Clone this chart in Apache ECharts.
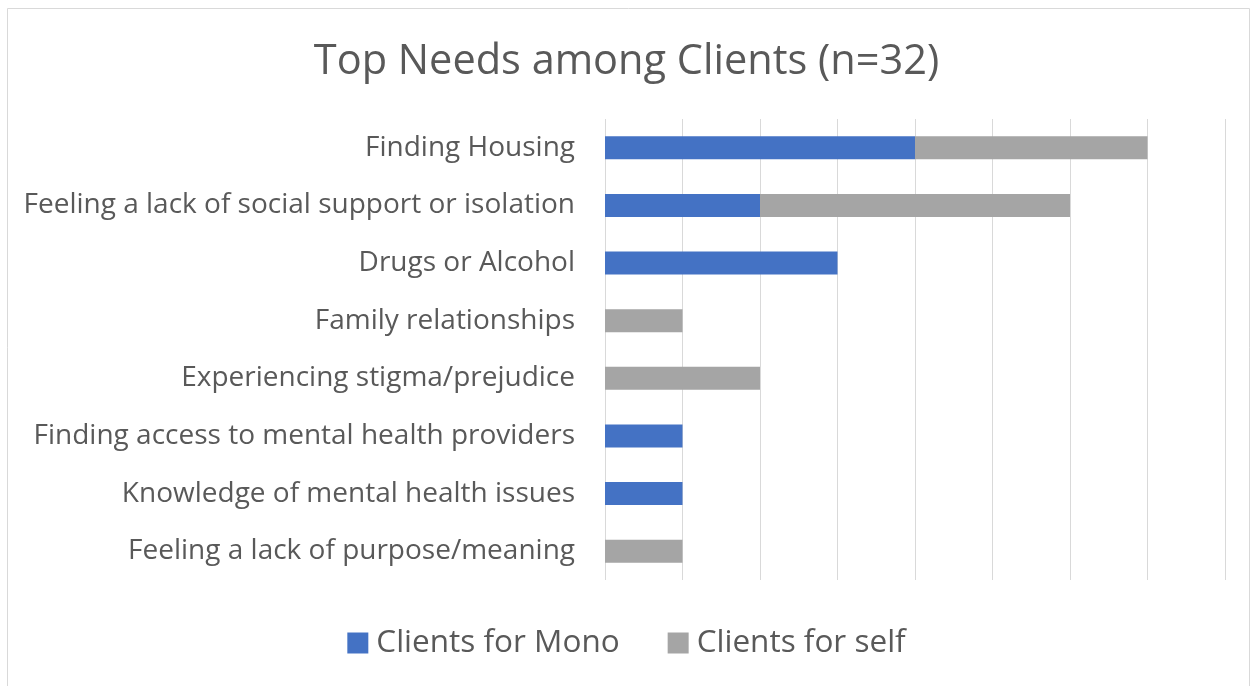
<!DOCTYPE html>
<html><head><meta charset="utf-8">
<script src="https://cdn.jsdelivr.net/npm/echarts@6/dist/echarts.min.js"></script>
<style>html,body{margin:0;padding:0;background:#fff}#c{width:1253px;height:686px}</style>
</head><body><div id="c"></div>
<script>
const categories = [
  "Finding Housing",
  "Feeling a lack of social support or isolation",
  "Drugs or Alcohol",
  "Family relationships",
  "Experiencing stigma/prejudice",
  "Finding access to mental health providers",
  "Knowledge of mental health issues",
  "Feeling a lack of purpose/meaning"
];
const clientsForMono = [4, 2, 3, 0, 0, 1, 1, 0];
const clientsForSelf = [3, 4, 0, 1, 2, 0, 0, 1];
const seriesNames = ["Clients for Mono", "Clients for self"];

const chart = echarts.init(document.getElementById('c'), null, {renderer: 'canvas'});
const font = "'Open Sans', sans-serif";
chart.setOption({
  animation: false,
  backgroundColor: '#fff',
  graphic: [{type: 'rect', shape: {x: 7.5, y: 8.5, width: 1242, height: 700}, style: {fill: 'none', stroke: '#d9d9d9', lineWidth: 1}, silent: true}],
  title: {text: 'Top Needs among Clients (n=32)', left: 'center', top: 36,
    textStyle: {fontFamily: font, fontSize: 41.5, fontWeight: 'normal', color: '#595959'}},
  legend: {bottom: 22, left: 'center', icon: 'rect', itemWidth: 21, itemHeight: 21, itemGap: 48,
    textStyle: {fontFamily: font, fontSize: 31.5, color: '#595959', padding: [0, 0, 0, 3]},
    data: seriesNames},
  grid: {left: 605, right: 28, top: 119, bottom: 106, containLabel: false},
  xAxis: {type: 'value', min: 0, max: 8, interval: 1,
    axisLabel: {show: false}, axisLine: {show: false}, axisTick: {show: false},
    splitLine: {show: true, lineStyle: {color: '#d9d9d9', width: 1}}},
  yAxis: {type: 'category', inverse: true, data: categories,
    axisLine: {show: false}, axisTick: {show: false},
    axisLabel: {fontFamily: font, fontSize: 28, color: '#595959', margin: 30, padding: [4, 0, 0, 0]}},
  series: [
    {name: seriesNames[0], type: 'bar', stack: 's', data: clientsForMono, barWidth: 23, itemStyle: {color: '#4472c4'}},
    {name: seriesNames[1], type: 'bar', stack: 's', data: clientsForSelf, barWidth: 23, itemStyle: {color: '#a5a5a5'}}
  ]
});
</script></body></html>
